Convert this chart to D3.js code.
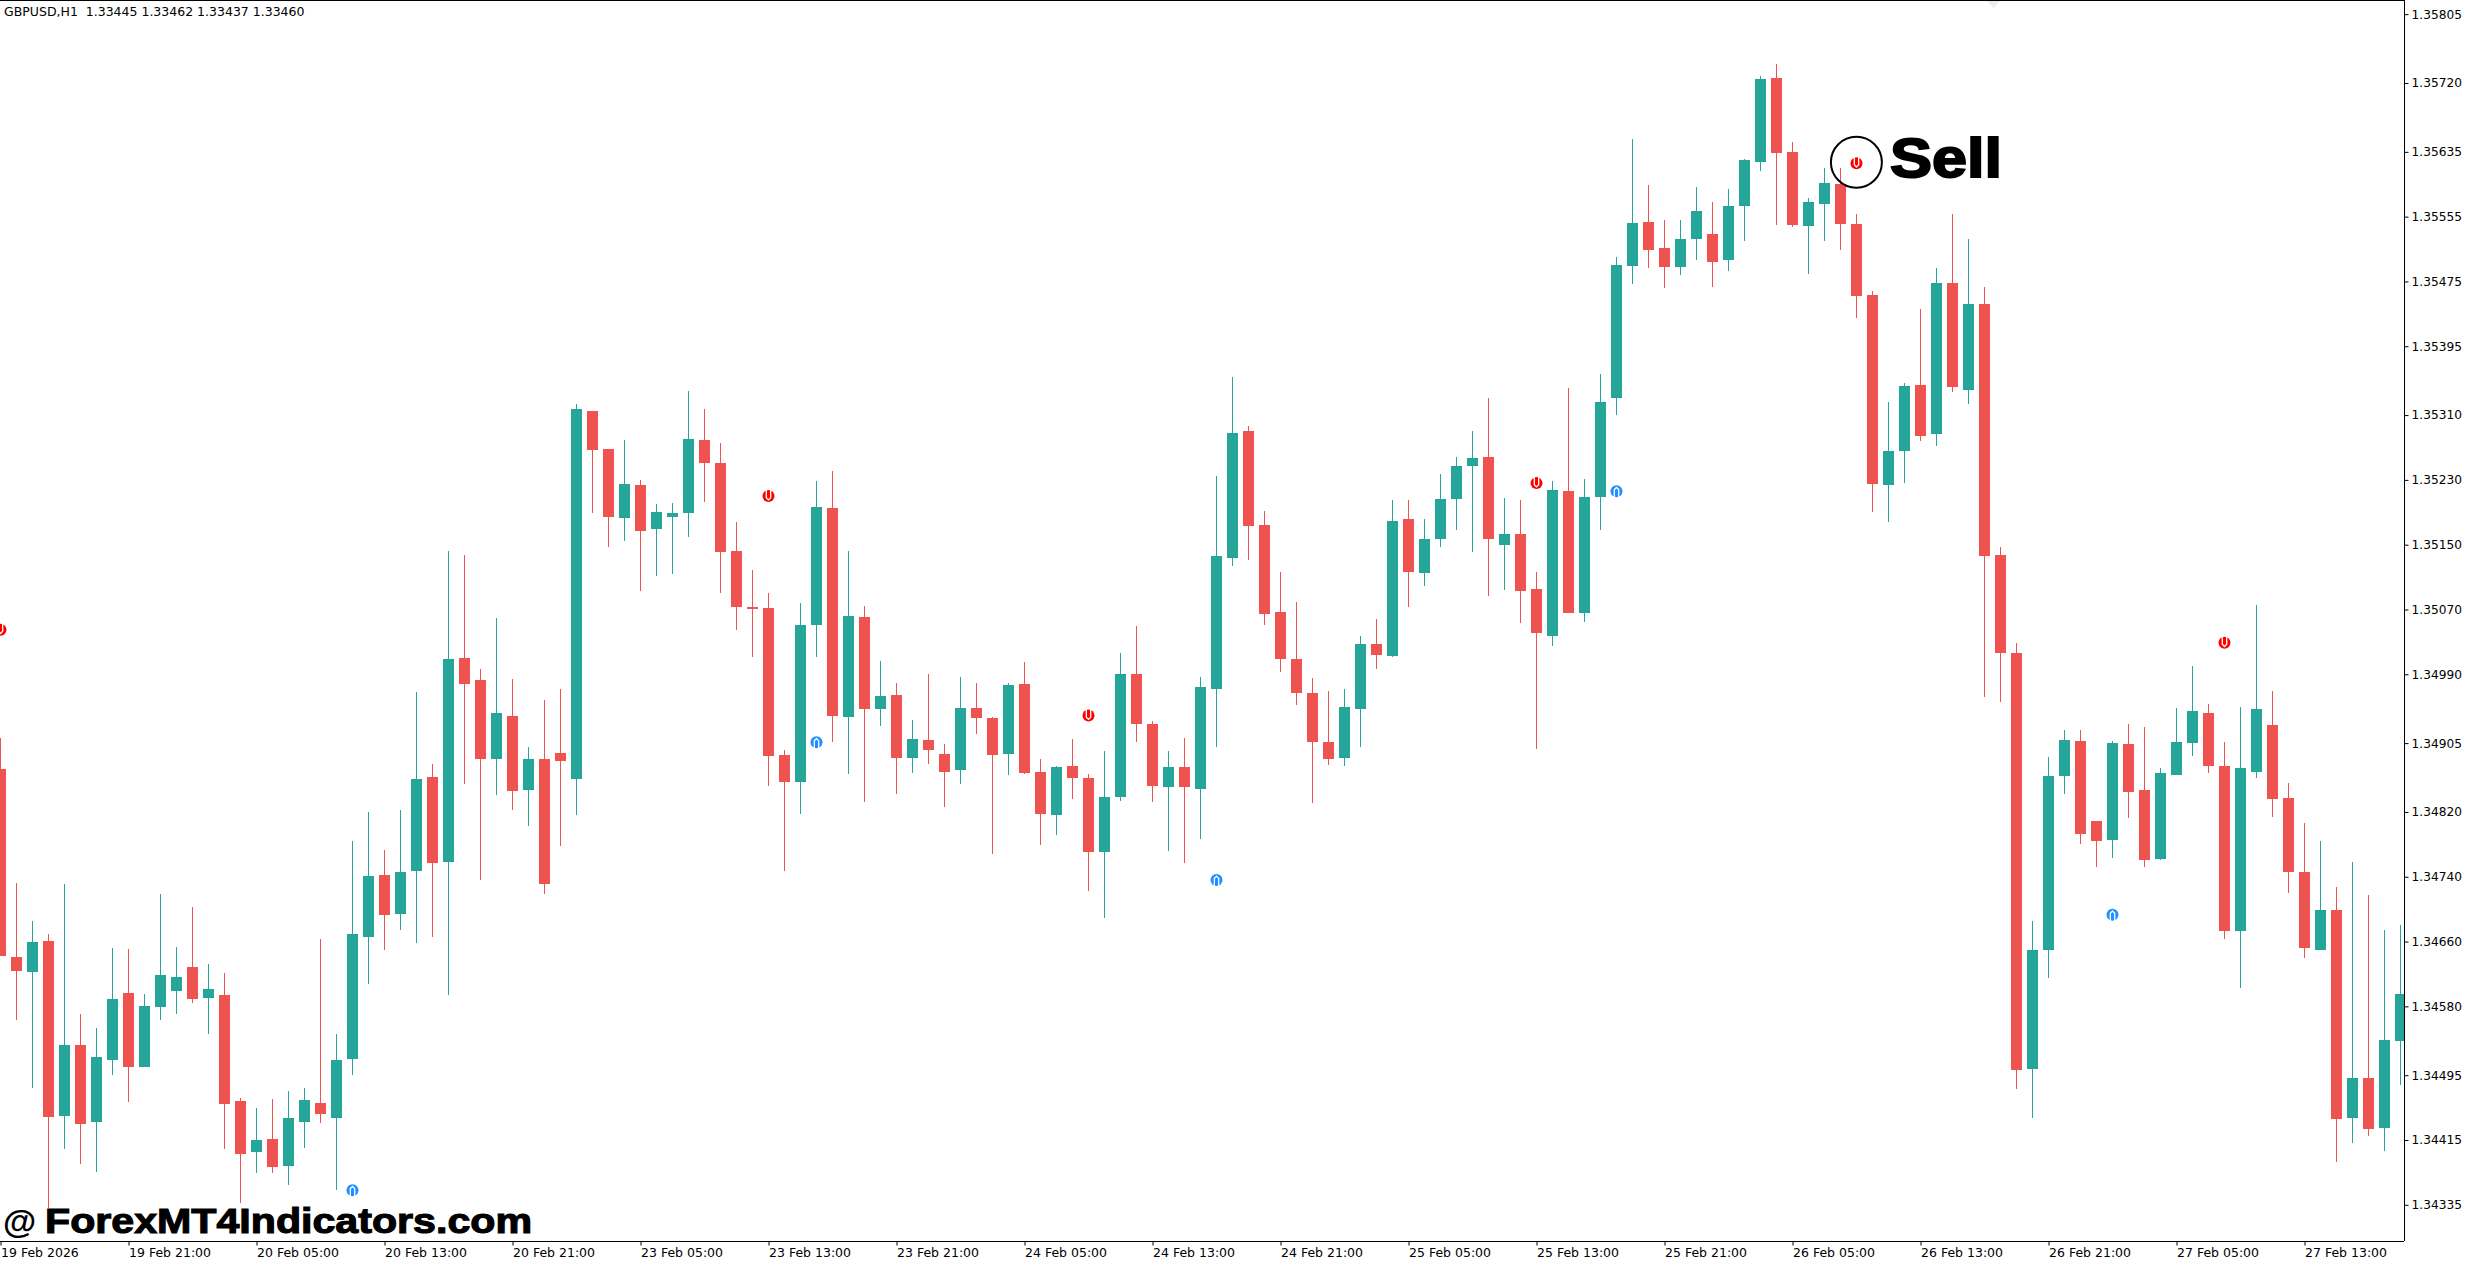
<!DOCTYPE html>
<html>
<head>
<meta charset="utf-8">
<script src="https://d3js.org/d3.v7.min.js"></script>
<style>
  html, body { margin: 0; padding: 0; background: #fff; }
  svg { display: block; }
  text { font-family: "DejaVu Sans", sans-serif; fill: #000; }
</style>
</head>
<body>
<div id="chart"></div>
<script>
// GBPUSD H1 bars
var opens = [
1.34873,1.34641,1.34623,1.34661,1.34445,1.34532,1.34437,1.34514,1.34597,1.34505,
1.34579,1.34599,1.34628,1.34590,1.34594,1.34463,1.34400,1.34416,1.34383,1.34437,
1.34461,1.34442,1.34515,1.34666,1.34742,1.34694,1.34747,1.34863,1.34758,1.35010,
1.34983,1.34885,1.34938,1.34847,1.34885,1.34893,1.34861,1.35315,1.35268,1.35183,
1.35224,1.35169,1.35184,1.35189,1.35279,1.35251,1.35142,1.35073,1.35072,1.34890,
1.34857,1.35051,1.35195,1.34937,1.35061,1.34947,1.34964,1.34887,1.34909,1.34892,
1.34872,1.34948,1.34936,1.34892,1.34978,1.34869,1.34816,1.34877,1.34862,1.34770,
1.34839,1.34990,1.34929,1.34851,1.34875,1.34848,1.34972,1.35133,1.35290,1.35174,
1.35067,1.35009,1.34967,1.34906,1.34887,1.34947,1.35027,1.35013,1.35182,1.35115,
1.35157,1.35207,1.35247,1.35258,1.35150,1.35163,1.35095,1.35037,1.35216,1.35066,
1.35209,1.35331,1.35494,1.35549,1.35516,1.35493,1.35527,1.35534,1.35501,1.35568,
1.35622,1.35726,1.35635,1.35544,1.35571,1.35595,1.35546,1.35458,1.35224,1.35266,
1.35347,1.35287,1.35473,1.35341,1.35447,1.35137,1.35016,1.34503,1.34650,1.34864,
1.34908,1.34809,1.34785,1.34904,1.34847,1.34762,1.34866,1.34905,1.34942,1.34877,
1.34673,1.34869,1.34927,1.34837,1.34746,1.34650,1.34699,1.34442,1.34491,1.34430,1.34537];

var closes = [
1.34642,1.34624,1.34659,1.34443,1.34532,1.34435,1.34517,1.34589,1.34505,1.34580,
1.34619,1.34616,1.34589,1.34601,1.34459,1.34398,1.34415,1.34382,1.34442,1.34464,
1.34447,1.34514,1.34669,1.34741,1.34693,1.34746,1.34861,1.34757,1.35009,1.34978,
1.34885,1.34942,1.34846,1.34885,1.34731,1.34883,1.35318,1.35267,1.35184,1.35225,
1.35167,1.35190,1.35189,1.35280,1.35251,1.35141,1.35073,1.35070,1.34889,1.34857,
1.35051,1.35196,1.34938,1.35062,1.34947,1.34963,1.34887,1.34910,1.34897,1.34869,
1.34948,1.34936,1.34890,1.34977,1.34868,1.34818,1.34876,1.34862,1.34770,1.34839,
1.34990,1.34929,1.34852,1.34876,1.34851,1.34974,1.35136,1.35288,1.35173,1.35065,
1.35009,1.34967,1.34906,1.34885,1.34950,1.35027,1.35014,1.35179,1.35116,1.35157,
1.35207,1.35247,1.35257,1.35157,1.35163,1.35093,1.35041,1.35217,1.35066,1.35209,
1.35326,1.35495,1.35547,1.35514,1.35493,1.35528,1.35562,1.35499,1.35568,1.35625,
1.35725,1.35634,1.35545,1.35573,1.35597,1.35546,1.35457,1.35225,1.35266,1.35346,
1.35284,1.35473,1.35345,1.35447,1.35136,1.35016,1.34501,1.34650,1.34864,1.34909,
1.34793,1.34784,1.34905,1.34845,1.34761,1.34868,1.34907,1.34945,1.34877,1.34673,
1.34874,1.34947,1.34836,1.34746,1.34652,1.34699,1.34441,1.34491,1.34428,1.34539,1.34595];

var highs = [
1.34911,1.34732,1.34685,1.34669,1.34731,1.34570,1.34553,1.34652,1.34651,1.34595,
1.34719,1.34653,1.34703,1.34632,1.34621,1.34467,1.34455,1.34466,1.34476,1.34479,
1.34663,1.34546,1.34784,1.34820,1.34773,1.34823,1.34968,1.34879,1.35142,1.35137,
1.34996,1.35059,1.34984,1.34900,1.34958,1.34972,1.35324,1.35315,1.35268,1.35279,
1.35230,1.35200,1.35201,1.35340,1.35318,1.35275,1.35178,1.35119,1.35090,1.34897,
1.35078,1.35229,1.35241,1.35142,1.35074,1.35006,1.34979,1.34933,1.34990,1.34904,
1.34987,1.34979,1.34937,1.34979,1.35005,1.34885,1.34877,1.34910,1.34867,1.34895,
1.35016,1.35049,1.34932,1.34895,1.34911,1.34987,1.35235,1.35357,1.35296,1.35191,
1.35116,1.35079,1.34985,1.34969,1.34972,1.35037,1.35058,1.35205,1.35205,1.35182,
1.35237,1.35258,1.35290,1.35331,1.35208,1.35205,1.35116,1.35229,1.35344,1.35231,
1.35361,1.35505,1.35651,1.35594,1.35551,1.35551,1.35592,1.35573,1.35589,1.35626,
1.35729,1.35744,1.35647,1.35578,1.35615,1.35615,1.35558,1.35463,1.35326,1.35350,
1.35441,1.35492,1.35558,1.35528,1.35468,1.35147,1.35028,1.34686,1.34888,1.34921,
1.34921,1.34809,1.34908,1.34929,1.34925,1.34874,1.34948,1.35000,1.34953,1.34907,
1.34950,1.35075,1.34969,1.34856,1.34806,1.34784,1.34727,1.34758,1.34717,1.34674,1.34681];

var lows = [
1.34642,1.34563,1.34479,1.34331,1.34404,1.34385,1.34375,1.34495,1.34462,1.34505,
1.34563,1.34570,1.34584,1.34546,1.34404,1.34337,1.34374,1.34374,1.34360,1.34405,
1.34436,1.34353,1.34495,1.34608,1.34650,1.34674,1.34658,1.34666,1.34594,1.34854,
1.34736,1.34841,1.34823,1.34803,1.34719,1.34778,1.34816,1.35189,1.35147,1.35155,
1.35093,1.35111,1.35114,1.35160,1.35203,1.35090,1.35045,1.35011,1.34852,1.34747,
1.34818,1.35011,1.34906,1.34867,1.34832,1.34926,1.34842,1.34868,1.34879,1.34826,
1.34854,1.34916,1.34768,1.34866,1.34867,1.34779,1.34791,1.34836,1.34722,1.34689,
1.34834,1.34906,1.34832,1.34772,1.34757,1.34787,1.34900,1.35124,1.35131,1.35051,
1.34993,1.34952,1.34831,1.34878,1.34877,1.34900,1.34996,1.35011,1.35073,1.35099,
1.35147,1.35168,1.35141,1.35087,1.35094,1.35053,1.34898,1.35025,1.35066,1.35055,
1.35168,1.35310,1.35472,1.35491,1.35467,1.35483,1.35501,1.35468,1.35488,1.35525,
1.35611,1.35545,1.35542,1.35484,1.35525,1.35514,1.35430,1.35190,1.35178,1.35226,
1.35278,1.35272,1.35338,1.35324,1.34962,1.34956,1.34478,1.34442,1.34615,1.34842,
1.34780,1.34752,1.34763,1.34813,1.34752,1.34761,1.34866,1.34889,1.34868,1.34663,
1.34603,1.34862,1.34814,1.34720,1.34640,1.34650,1.34388,1.34411,1.34420,1.34402,1.34483];

// indicator arrows: bar index and price
var sellBars = [0, 48, 68, 96, 116, 139];
var sellPrices = [1.35045, 1.35210, 1.34939, 1.35226, 1.35621, 1.35029];
var buyBars = [22, 51, 76, 101, 132];
var buyPrices = [1.34353, 1.34906, 1.34736, 1.35216, 1.34693];

// axis labels
var priceTicks = [1.35805,1.35720,1.35635,1.35555,1.35475,1.35395,1.35310,1.35230,1.35150,1.35070,
  1.34990,1.34905,1.34820,1.34740,1.34660,1.34580,1.34495,1.34415,1.34335];
var timeTickBars = [0,8,16,24,32,40,48,56,64,72,80,88,96,104,112,120,128,136,144];
var timeLabels = ["19 Feb 2026","19 Feb 21:00","20 Feb 05:00","20 Feb 13:00","20 Feb 21:00",
  "23 Feb 05:00","23 Feb 13:00","23 Feb 21:00","24 Feb 05:00","24 Feb 13:00","24 Feb 21:00",
  "25 Feb 05:00","25 Feb 13:00","25 Feb 21:00","26 Feb 05:00","26 Feb 13:00","26 Feb 21:00",
  "27 Feb 05:00","27 Feb 13:00"];

var width = 2470, height = 1264;
var plotRight = 2404, plotBottom = 1241;
var upColor = "#26a69a", downColor = "#ef5350";

var svg = d3.select("#chart").append("svg")
  .attr("width", width)
  .attr("height", height);

var x = d3.scaleLinear().domain([0, 150]).range([0.5, 2400.5]);
var y = d3.scaleLinear().domain([1.35720, 1.34335]).range([83, 1204.8]);

svg.append("clipPath").attr("id", "plot")
  .append("rect").attr("width", plotRight).attr("height", plotBottom);

var candles = opens.map(function(o, i) {
  return { i: i, open: o, close: closes[i], high: highs[i], low: lows[i] };
});
function barColor(d) { return d.close >= d.open ? upColor : downColor; }

var plot = svg.append("g").attr("clip-path", "url(#plot)");

// wicks
plot.append("g").selectAll("rect").data(candles).enter().append("rect")
  .attr("x", function(d) { return x(d.i) - 0.5; })
  .attr("y", function(d) { return y(d.high); })
  .attr("width", 1)
  .attr("height", function(d) { return y(d.low) - y(d.high); })
  .attr("fill", barColor)
  .attr("shape-rendering", "crispEdges");

// bodies
plot.append("g").selectAll("rect").data(candles).enter().append("rect")
  .attr("x", function(d) { return x(d.i) - 5.5; })
  .attr("y", function(d) { return y(Math.max(d.open, d.close)); })
  .attr("width", 11)
  .attr("height", function(d) { return Math.abs(y(d.open) - y(d.close)); })
  .attr("fill", barColor)
  .attr("shape-rendering", "crispEdges");

// arrow markers: round blob with a white U line round a centre stem
function drawMarkers(bars, prices, color, dir) {
  var g = plot.append("g").selectAll("g").data(bars).enter().append("g")
    .attr("transform", function(d, k) {
      return "translate(" + x(d) + "," + y(prices[k]) + ") scale(1," + dir + ")";
    });
  g.append("circle").attr("r", 6).attr("fill", color);
  g.append("path")
    .attr("d", "M-2.2,-6.5V1.6L0,3.8L2.2,1.6V-6.5")
    .attr("fill", "none").attr("stroke", "#fff").attr("stroke-width", 1.3);
}
drawMarkers(sellBars, sellPrices, "#ff0000", 1);
drawMarkers(buyBars, buyPrices, "#1e90ff", -1);

// chart frame
svg.append("rect").attr("x", 0).attr("y", 0).attr("width", plotRight + 1).attr("height", 1).attr("fill", "#000");

// price axis
var yAxis = svg.append("g")
  .attr("transform", "translate(" + (plotRight + 0.5) + ",0)")
  .call(d3.axisRight(y).tickValues(priceTicks).tickFormat(d3.format(".5f")).tickSize(4).tickPadding(3));
yAxis.select(".domain").attr("d", "M0,0V" + plotBottom).attr("stroke", "#000");
yAxis.selectAll("line").attr("stroke", "#000");
yAxis.selectAll("text").style("font-family", '"DejaVu Sans", sans-serif').style("font-size", "12.2px").attr("fill", "#000");

// time axis
var xAxis = svg.append("g")
  .attr("transform", "translate(0," + (plotBottom + 0.5) + ")")
  .call(d3.axisBottom(x).tickValues(timeTickBars)
    .tickFormat(function(d, k) { return timeLabels[k]; }).tickSize(4).tickPadding(3));
xAxis.select(".domain").attr("d", "M0,0H" + plotRight).attr("stroke", "#000");
xAxis.selectAll("line").attr("stroke", "#000");
xAxis.selectAll("text")
  .style("font-family", '"DejaVu Sans", sans-serif').style("font-size", "12.5px")
  .attr("fill", "#000").attr("text-anchor", "start");

// header
svg.append("text").attr("x", 4).attr("y", 16)
  .attr("xml:space", "preserve").style("white-space", "pre").style("font-size", "12.5px")
  .text("GBPUSD,H1  1.33445 1.33462 1.33437 1.33460");

// small sliver at the top edge
svg.append("path").attr("d", "M1987,1H2000L1993.5,8Z").attr("fill", "#efeaf2");

// annotation
svg.append("circle").attr("cx", 1856.4).attr("cy", 162.3).attr("r", 25.5)
  .attr("fill", "none").attr("stroke", "#000").attr("stroke-width", 2);
svg.append("text").attr("x", 1890).attr("y", 176.5)
  .attr("textLength", 112).attr("lengthAdjust", "spacingAndGlyphs")
  .style("font-family", '"Liberation Sans", sans-serif').style("font-weight", "bold")
  .style("font-size", "56px").attr("stroke", "#000").attr("stroke-width", 2)
  .text("Sell");

// watermark
svg.append("text").attr("x", 3).attr("y", 1232.5)
  .style("font-family", '"Liberation Sans", sans-serif').style("font-weight", "bold")
  .style("font-size", "34px")
  .text("@");
svg.append("text").attr("x", 45).attr("y", 1232.5)
  .attr("textLength", 487).attr("lengthAdjust", "spacingAndGlyphs")
  .style("font-family", '"Liberation Sans", sans-serif').style("font-weight", "bold")
  .style("font-size", "35px").attr("stroke", "#000").attr("stroke-width", 1.1)
  .text("ForexMT4Indicators.com");
</script>
</body>
</html>
